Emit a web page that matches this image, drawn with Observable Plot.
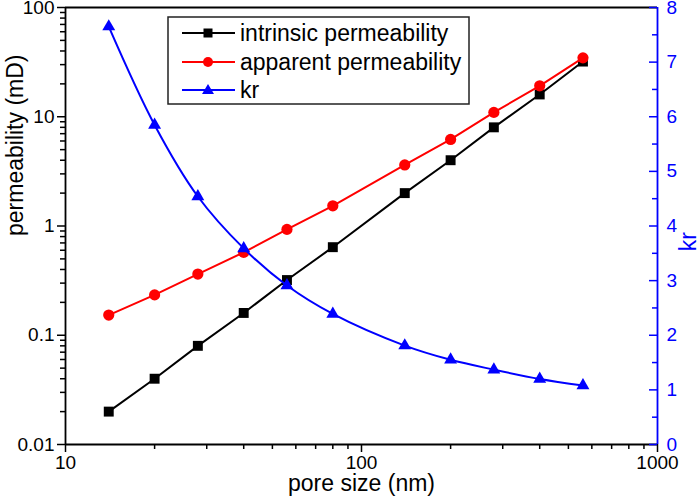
<!DOCTYPE html>
<html>
<head>
<meta charset="utf-8">
<script src="https://cdn.jsdelivr.net/npm/d3@7"></script>
<script src="https://cdn.jsdelivr.net/npm/@observablehq/plot@0.6"></script>
<style>
  html, body { margin: 0; padding: 0; background: white; }
  #wrap { position: relative; width: 700px; height: 499px; }
  #wrap > svg, #wrap > figure { position: absolute; left: 0; top: 0; margin: 0; }
</style>
</head>
<body>
<div id="wrap"></div>
<script>
// ---- data ----
const poreSize = [14, 20, 28, 40, 56, 80, 140, 200, 280, 400, 560];
const intrinsic = [0.02, 0.04, 0.08, 0.16, 0.32, 0.64, 2, 4, 8, 16, 32];
const apparent = [0.153, 0.234, 0.363, 0.574, 0.931, 1.53, 3.62, 6.2, 10.96, 19.2, 34.6];
const kr = [7.65, 5.85, 4.54, 3.59, 2.91, 2.39, 1.81, 1.55, 1.37, 1.2, 1.08];

const seriesNames = ["intrinsic permeability", "apparent permeability", "kr"];
const seriesColors = ["#000000", "#ff0000", "#0000ff"];

const xMajor = [10, 100, 1000];
const xMinor = [20, 30, 40, 50, 60, 70, 80, 90, 200, 300, 400, 500, 600, 700, 800, 900];
const yMajor = [0.01, 0.1, 1, 10, 100];
const yMinor = [0.02,0.03,0.04,0.05,0.06,0.07,0.08,0.09,0.2,0.3,0.4,0.5,0.6,0.7,0.8,0.9,2,3,4,5,6,7,8,9,20,30,40,50,60,70,80,90];
const krMajor = [0, 1, 2, 3, 4, 5, 6, 7, 8];
const krMinor = [0.5, 1.5, 2.5, 3.5, 4.5, 5.5, 6.5, 7.5];

const titles = { x: "pore size (nm)", y: "permeability (mD)", y2: "kr" };

// ---- tables ----
const intrinsicRows = poreSize.map((x, i) => ({x, y: intrinsic[i]}));
const apparentRows = poreSize.map((x, i) => ({x, y: apparent[i]}));
const krRows = poreSize.map((x, i) => ({x, y: kr[i]}));

const W = 700, H = 499;
const M = {top: 7, right: 43, bottom: 55, left: 65};
const font = "'Liberation Sans', Arial, Helvetica, sans-serif";
const plotW = W - M.left - M.right;

const common = {
  width: W, height: H,
  marginTop: M.top, marginRight: M.right, marginBottom: M.bottom, marginLeft: M.left
};

const p1 = Plot.plot({
  ...common,
  style: {fontFamily: font, background: "white", overflow: "visible"},
  x: {type: "log", domain: [10, 1000]},
  y: {type: "log", domain: [0.01, 100]},
  marks: [
    Plot.axisY({ticks: yMajor, tickSize: 8, tickPadding: 3, fontSize: 19, strokeWidth: 1.5, tickFormat: d => String(d), label: null, fill: "black"}),
    Plot.axisY({ticks: yMinor, tickSize: 5, strokeWidth: 1.5, tickFormat: () => "", label: null}),
    Plot.axisX({ticks: xMajor, tickSize: 8, tickPadding: 3, fontSize: 19, strokeWidth: 1.5, tickFormat: d => String(d), label: null, fill: "black"}),
    Plot.axisX({ticks: xMinor, tickSize: 5, strokeWidth: 1.5, tickFormat: () => "", label: null}),
    Plot.ruleX([10], {stroke: "black", strokeWidth: 1.8}),
    Plot.ruleY([0.01], {stroke: "black", strokeWidth: 1.8}),
    Plot.ruleY([100], {stroke: "black", strokeWidth: 1.8}),
    Plot.text([titles.x], {text: d => d, frameAnchor: "bottom", dy: 46, fontSize: 23, fill: "black"}),
    Plot.text([titles.y], {text: d => d, frameAnchor: "left", dx: -50, dy: 10, rotate: -90, fontSize: 23, fill: "black"}),
    Plot.line(intrinsicRows, {x: "x", y: "y", stroke: seriesColors[0], strokeWidth: 2}),
    Plot.dot(intrinsicRows, {x: "x", y: "y", symbol: "square", r: 5.6, fill: seriesColors[0], stroke: "none"}),
    Plot.line(apparentRows, {x: "x", y: "y", stroke: seriesColors[1], strokeWidth: 2}),
    Plot.dot(apparentRows, {x: "x", y: "y", symbol: "circle", r: 5.6, fill: seriesColors[1], stroke: "none"})
  ]
});

const p2 = Plot.plot({
  ...common,
  style: {fontFamily: font, background: "transparent", overflow: "visible"},
  x: {type: "log", domain: [10, 1000], axis: null},
  y: {type: "linear", domain: [0, 8]},
  marks: [
    Plot.axisY({anchor: "right", ticks: krMajor, tickSize: 0, tickPadding: 9, fontSize: 19, fill: seriesColors[2], tickFormat: d => String(d), label: null}),
    Plot.tickY(krMajor, {y: d => d, stroke: seriesColors[2], strokeWidth: 1.5, insetLeft: plotW - 8}),
    Plot.tickY(krMinor, {y: d => d, stroke: seriesColors[2], strokeWidth: 1.5, insetLeft: plotW - 5}),
    Plot.ruleX([1000], {stroke: seriesColors[2], strokeWidth: 1.8}),
    Plot.text([titles.y2], {text: d => d, frameAnchor: "right", dx: 31, dy: 6, rotate: -90, fontSize: 23, fill: seriesColors[2]}),
    Plot.line(krRows, {x: "x", y: "y", stroke: seriesColors[2], strokeWidth: 2, curve: "catmull-rom"}),
    Plot.dot(krRows, {x: "x", y: "y", symbol: "triangle", r: 4.8, fill: seriesColors[2], stroke: "none"})
  ]
});

const wrap = document.getElementById("wrap");
wrap.appendChild(p1);
wrap.appendChild(p2);

// ---- legend ----
const ns = "http://www.w3.org/2000/svg";
const lg = document.createElementNS(ns, "svg");
lg.setAttribute("width", 304);
lg.setAttribute("height", 90);
lg.style.position = "absolute";
lg.style.left = "167px";
lg.style.top = "16px";
lg.style.overflow = "visible";
const mk = (tag, attrs) => { const e = document.createElementNS(ns, tag); for (const k in attrs) e.setAttribute(k, attrs[k]); lg.appendChild(e); return e; };
mk("rect", {x: 1, y: 1, width: 301, height: 87, fill: "white", stroke: "#222", "stroke-width": 1.5});
const rowY = [17, 46, 74];
const symbols = ["square", "circle", "triangle"];
seriesNames.forEach((name, i) => {
  const y = rowY[i];
  mk("line", {x1: 15, x2: 68, y1: y, y2: y, stroke: seriesColors[i], "stroke-width": 2});
  if (symbols[i] === "square") mk("rect", {x: 41 - 4.5, y: y - 4.5, width: 9, height: 9, fill: seriesColors[i]});
  else if (symbols[i] === "circle") mk("circle", {cx: 41, cy: y, r: 5, fill: seriesColors[i]});
  else mk("path", {d: `M41,${y - 6}L47,${y + 4}L35,${y + 4}Z`, fill: seriesColors[i]});
  const t = mk("text", {x: 73, y: y, "dominant-baseline": "central", "font-size": 23, "font-family": font, fill: "black"});
  t.textContent = name;
});
wrap.appendChild(lg);
</script>
</body>
</html>
